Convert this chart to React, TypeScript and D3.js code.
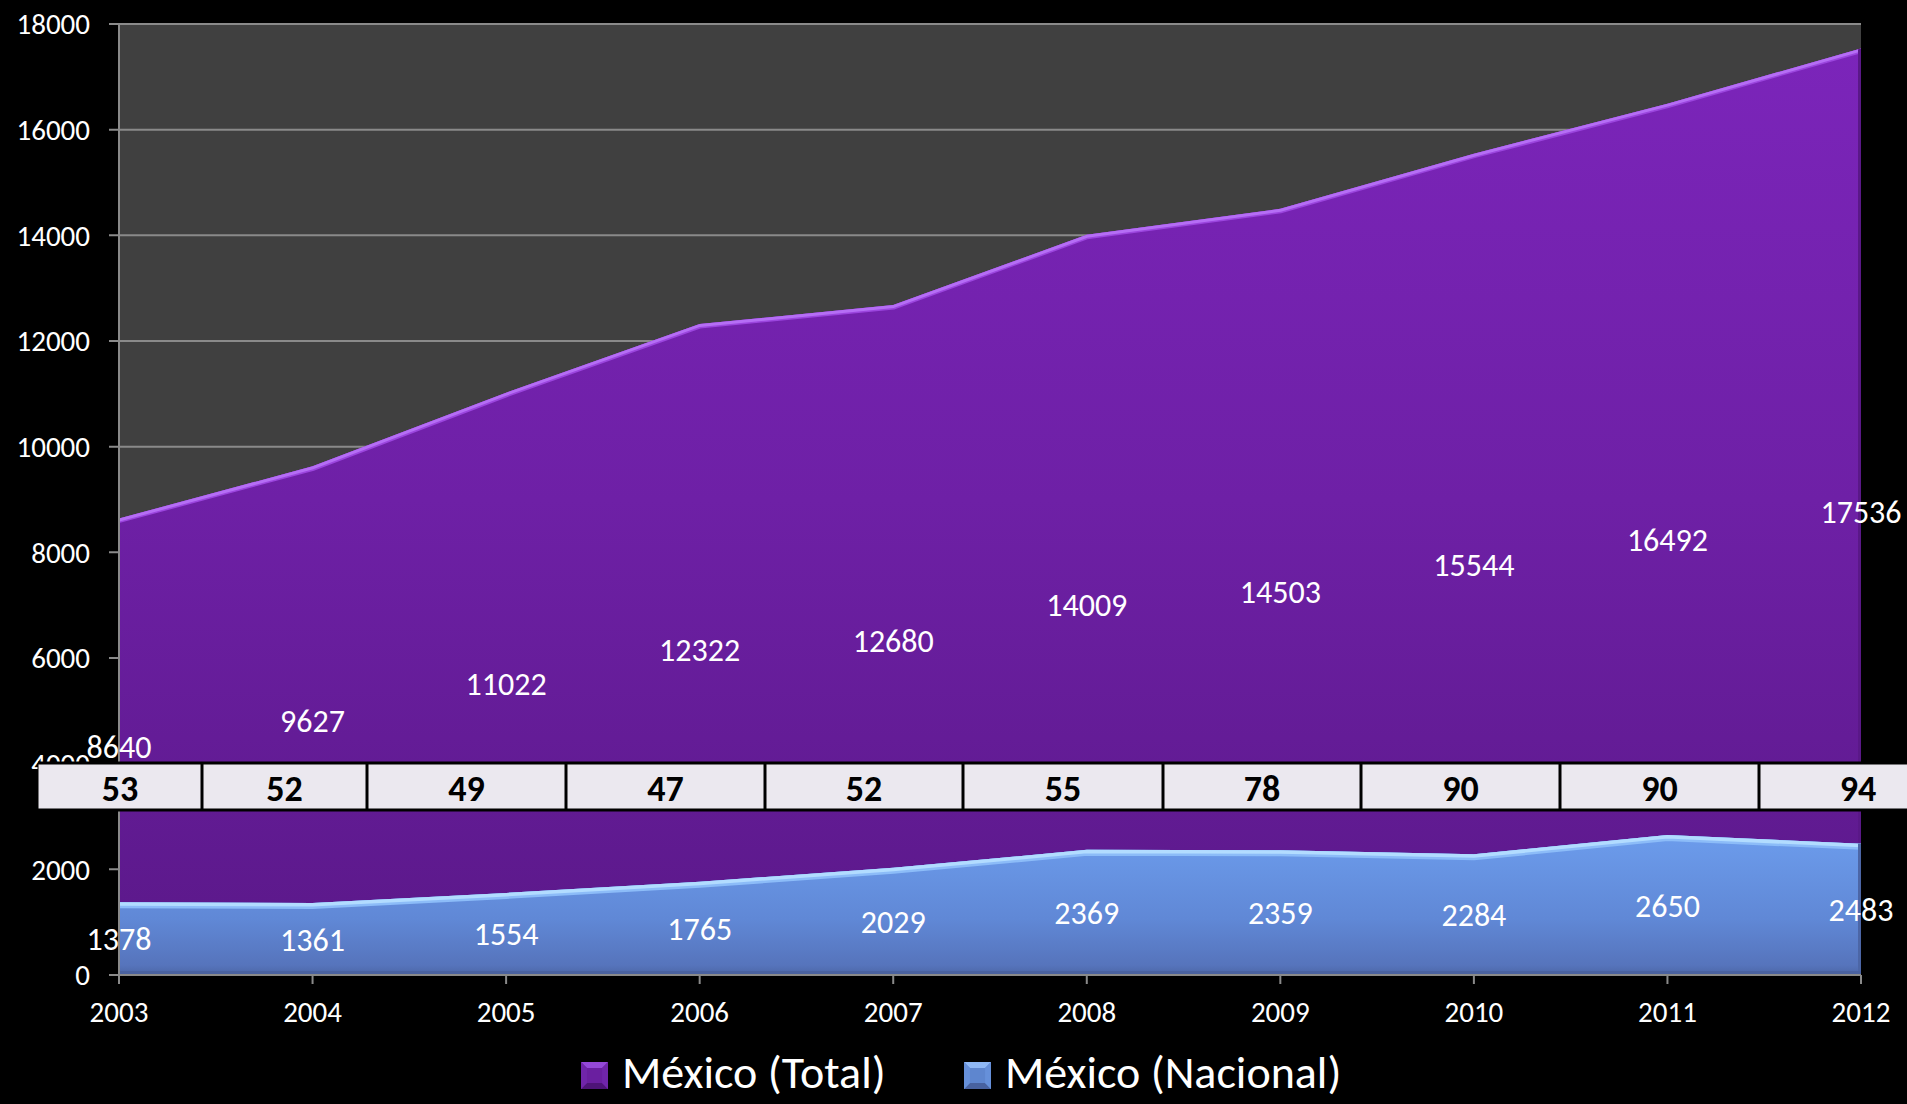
import React from "react";
import * as d3 from "d3";

const years = ["2003", "2004", "2005", "2006", "2007", "2008", "2009", "2010", "2011", "2012"];
const totalValues = [8640, 9627, 11022, 12322, 12680, 14009, 14503, 15544, 16492, 17536];
const nacionalValues = [1378, 1361, 1554, 1765, 2029, 2369, 2359, 2284, 2650, 2483];
const tableValues = [53, 52, 49, 47, 52, 55, 78, 90, 90, 94];
const yTicks = [0, 2000, 4000, 6000, 8000, 10000, 12000, 14000, 16000, 18000];
const seriesNames = ["México (Total)", "México (Nacional)"];

// layout constants
const W = 1907;
const H = 1104;
const PLOT_L = 119;
const PLOT_R = 1861;
const PLOT_T = 24;
const PLOT_B = 975;
const TABLE_EDGES = [38, 202, 367, 566, 765, 963, 1163, 1361, 1560, 1759, 1957];
const TABLE_T = 763;
const TABLE_B = 810;
const FONT = "Carlito, Lato, 'Open Sans', sans-serif";

function BevelSquare({ x, y, s, light, mid, dark, base }: any) {
  const i = s * 0.22;
  return (
    <g>
      <rect x={x} y={y} width={s} height={s} fill={base} />
      <polygon points={`${x},${y} ${x + s},${y} ${x + s - i},${y + i} ${x + i},${y + i}`} fill={light} />
      <polygon points={`${x},${y + s} ${x + s},${y + s} ${x + s - i},${y + s - i} ${x + i},${y + s - i}`} fill={dark} />
      <polygon points={`${x},${y} ${x + i},${y + i} ${x + i},${y + s - i} ${x},${y + s}`} fill={mid} />
      <polygon points={`${x + s},${y} ${x + s - i},${y + i} ${x + s - i},${y + s - i} ${x + s},${y + s}`} fill={mid} />
    </g>
  );
}

export default function App() {
  const x = d3.scalePoint<string>().domain(years).range([PLOT_L, PLOT_R]);
  const y = d3.scaleLinear().domain([0, 18000]).range([PLOT_B, PLOT_T]);

  const totalData = years.map((yr, i) => ({ yr, v: totalValues[i] }));
  const nacData = years.map((yr, i) => ({ yr, v: nacionalValues[i] }));

  const area = d3
    .area<{ yr: string; v: number }>()
    .x((d) => x(d.yr) as number)
    .y0(y(0))
    .y1((d) => y(d.v));
  const line = d3
    .line<{ yr: string; v: number }>()
    .x((d) => x(d.yr) as number)
    .y((d) => y(d.v));

  const tickFs = 29;
  const labelFs = 32;
  const labelOff = labelFs * 0.36;

  return (
    <div style={{ position: "absolute", left: 0, top: 0, width: W, height: H, background: "#000" }}>
      <svg width={W} height={H} style={{ display: "block" }} fontFamily={FONT}>
        <defs>
          <linearGradient id="gPurple" x1="0" y1={PLOT_T} x2="0" y2={PLOT_B} gradientUnits="userSpaceOnUse">
            <stop offset="0" stopColor="#7c25bb" />
            <stop offset="0.5" stopColor="#6e20a6" />
            <stop offset="1" stopColor="#5a1888" />
          </linearGradient>
          <linearGradient id="gBlue" x1="0" y1={y(2650)} x2="0" y2={PLOT_B} gradientUnits="userSpaceOnUse">
            <stop offset="0" stopColor="#6c9cec" />
            <stop offset="0.6" stopColor="#6088d6" />
            <stop offset="0.93" stopColor="#5674bc" />
            <stop offset="1" stopColor="#4c66a6" />
          </linearGradient>
          <clipPath id="clipPurple">
            <path d={area(totalData) || ""} />
          </clipPath>
          <clipPath id="clipBlue">
            <path d={area(nacData) || ""} />
          </clipPath>
        </defs>

        <rect x={0} y={0} width={W} height={H} fill="#000" />
        <rect x={PLOT_L} y={PLOT_T} width={PLOT_R - PLOT_L} height={PLOT_B - PLOT_T} fill="#404040" />

        {yTicks.filter((t) => t > 0).map((t) => (
          <line key={t} x1={PLOT_L - 10} x2={PLOT_R} y1={y(t)} y2={y(t)} stroke="#8a8a8a" strokeWidth={2} />
        ))}
        <line x1={PLOT_L - 10} x2={PLOT_L} y1={y(0)} y2={y(0)} stroke="#8a8a8a" strokeWidth={2} />

        {yTicks.map((t) => (
          <text key={t} x={90} y={y(t) + tickFs * 0.36} textAnchor="end" fill="#fff" fontSize={tickFs}>
            {t}
          </text>
        ))}

        <path d={area(totalData) || ""} fill="url(#gPurple)" />
        <g clipPath="url(#clipPurple)">
          <path d={line(totalData) || ""} fill="none" stroke="#9b45de" strokeWidth={9} />
          <path d={line(totalData) || ""} fill="none" stroke="#b56ef5" strokeWidth={4} transform="translate(0,1)" />
          <line x1={PLOT_R} x2={PLOT_R} y1={PLOT_T} y2={PLOT_B} stroke="#5a1888" strokeWidth={6} />
        </g>

        <path d={area(nacData) || ""} fill="url(#gBlue)" />
        <g clipPath="url(#clipBlue)">
          <path d={line(nacData) || ""} fill="none" stroke="#8cbcf8" strokeWidth={12} />
          <path d={line(nacData) || ""} fill="none" stroke="#b2dcff" strokeWidth={5} transform="translate(0,1)" />
          <line x1={PLOT_R} x2={PLOT_R} y1={PLOT_T} y2={PLOT_B} stroke="#4c66a6" strokeWidth={6} />
          <line x1={PLOT_L} x2={PLOT_R} y1={PLOT_B} y2={PLOT_B} stroke="#4a62a0" strokeWidth={8} />
        </g>

        <line x1={PLOT_L} x2={PLOT_L} y1={PLOT_T} y2={PLOT_B + 9} stroke="#8a8a8a" strokeWidth={2} />
        <line x1={PLOT_L} x2={PLOT_R} y1={PLOT_B} y2={PLOT_B} stroke="#8a8a8a" strokeWidth={2} />
        {years.map((yr) => (
          <line key={yr} x1={x(yr)} x2={x(yr)} y1={PLOT_B} y2={PLOT_B + 9} stroke="#8a8a8a" strokeWidth={2} />
        ))}
        {years.map((yr) => (
          <text key={yr} x={x(yr)} y={1022} textAnchor="middle" fill="#fff" fontSize={tickFs}>
            {yr}
          </text>
        ))}

        {totalData.map((d) => (
          <text key={"t" + d.yr} x={x(d.yr)} y={y(d.v / 2) + labelOff} textAnchor="middle" fill="#fff" fontSize={labelFs}>
            {d.v}
          </text>
        ))}
        {nacData.map((d) => (
          <text key={"n" + d.yr} x={x(d.yr)} y={y(d.v / 2) + labelOff} textAnchor="middle" fill="#fff" fontSize={labelFs}>
            {d.v}
          </text>
        ))}

        <rect x={TABLE_EDGES[0]} y={TABLE_T} width={TABLE_EDGES[10] - TABLE_EDGES[0]} height={TABLE_B - TABLE_T} fill="#ebe8ef" />
        {TABLE_EDGES.map((e, i) => (
          <line key={"e" + i} x1={e} x2={e} y1={TABLE_T} y2={TABLE_B} stroke="#000" strokeWidth={i === 0 ? 1 : 3} />
        ))}
        <line x1={TABLE_EDGES[0]} x2={W} y1={TABLE_T} y2={TABLE_T} stroke="#000" strokeWidth={3} />
        <line x1={TABLE_EDGES[0]} x2={W} y1={TABLE_B} y2={TABLE_B} stroke="#000" strokeWidth={3} />
        {tableValues.map((v, i) => (
          <text
            key={"tb" + i}
            x={(TABLE_EDGES[i] + TABLE_EDGES[i + 1]) / 2}
            y={801}
            textAnchor="middle"
            fill="#000"
            fontSize={36}
            fontWeight="bold"
          >
            {v}
          </text>
        ))}

        <BevelSquare x={581} y={1062} s={27} base="#6a1fa0" light="#9448d8" mid="#7025aa" dark="#4e1478" />
        <text x={622} y={1088} fill="#fff" fontSize={46}>
          {seriesNames[0]}
        </text>
        <BevelSquare x={964} y={1062} s={27} base="#5e86cf" light="#8fb8f5" mid="#6690da" dark="#4862a0" />
        <text x={1005} y={1088} fill="#fff" fontSize={46}>
          {seriesNames[1]}
        </text>
      </svg>
    </div>
  );
}
